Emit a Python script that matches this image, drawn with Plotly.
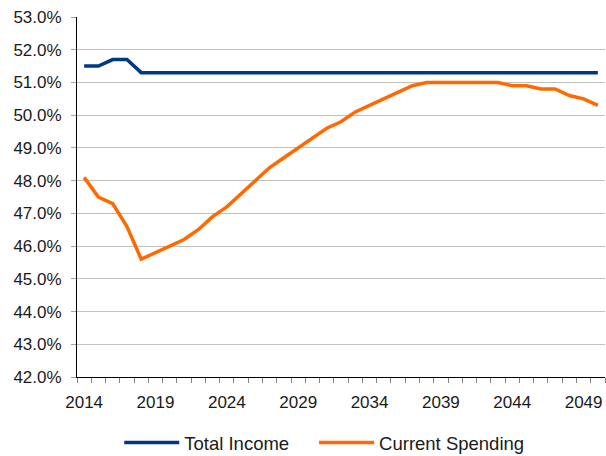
import plotly.graph_objects as go

years = list(range(2014, 2051))

total_income = [51.5, 51.5, 51.7, 51.7, 51.3] + [51.3] * 32

current_spending = [
    48.1, 47.5, 47.3, 46.6, 45.6, 45.8, 46.0, 46.2, 46.5, 46.9,
    47.2, 47.6, 48.0, 48.4, 48.7, 49.0, 49.3, 49.6, 49.8, 50.1,
    50.3, 50.5, 50.7, 50.9, 51.0, 51.0, 51.0, 51.0, 51.0, 51.0,
    50.9, 50.9, 50.8, 50.8, 50.6, 50.5, 50.3,
]

tick_years = list(range(2014, 2051, 5))
y_ticks = [42 + i for i in range(12)]
y_labels = [f"{v:.1f}%" for v in y_ticks]

font_family = "Liberation Sans, Arial, sans-serif"

fig = go.Figure()
fig.add_trace(go.Scatter(
    x=years, y=total_income, mode="lines", name="Total Income",
    line=dict(color="#003882", width=3.5), legend="legend",
))
fig.add_trace(go.Scatter(
    x=years, y=current_spending, mode="lines", name="Current Spending",
    line=dict(color="#FF6A00", width=3.5), legend="legend2",
))

legend_style = dict(
    orientation="h", xanchor="left", y=-0.183, yanchor="middle",
    font=dict(size=18.5), itemwidth=55, bgcolor="rgba(0,0,0,0)",
)

fig.update_layout(
    width=606, height=456,
    margin=dict(l=77, r=1, t=17, b=79, autoexpand=False),
    paper_bgcolor="white", plot_bgcolor="white",
    font=dict(family=font_family, size=17, color="#1a1a1a"),
    showlegend=True,
    legend=dict(x=0.08, **legend_style),
    legend2=dict(x=0.449, **legend_style),
)

fig.update_xaxes(
    range=[2013.5, 2050.5],
    tickmode="array", tickvals=tick_years, ticktext=[str(y) for y in tick_years],
    ticks="", showgrid=False, zeroline=False,
    showline=True, linecolor="black", linewidth=1,
    minor=dict(
        tickmode="array", tickvals=[y - 0.5 for y in range(2014, 2052)],
        ticks="outside", ticklen=5, tickcolor="#808080", showgrid=False,
    ),
    ticklabelstandoff=10,
)

fig.update_yaxes(
    range=[42, 53],
    tickmode="array", tickvals=y_ticks, ticktext=y_labels,
    ticks="outside", ticklen=5, tickcolor="#a0a0a0",
    showgrid=True, gridcolor="#c0c0c0", gridwidth=1, zeroline=False,
    showline=True, linecolor="black", linewidth=1,
    ticklabelstandoff=6,
)

fig.write_html("out.html")
